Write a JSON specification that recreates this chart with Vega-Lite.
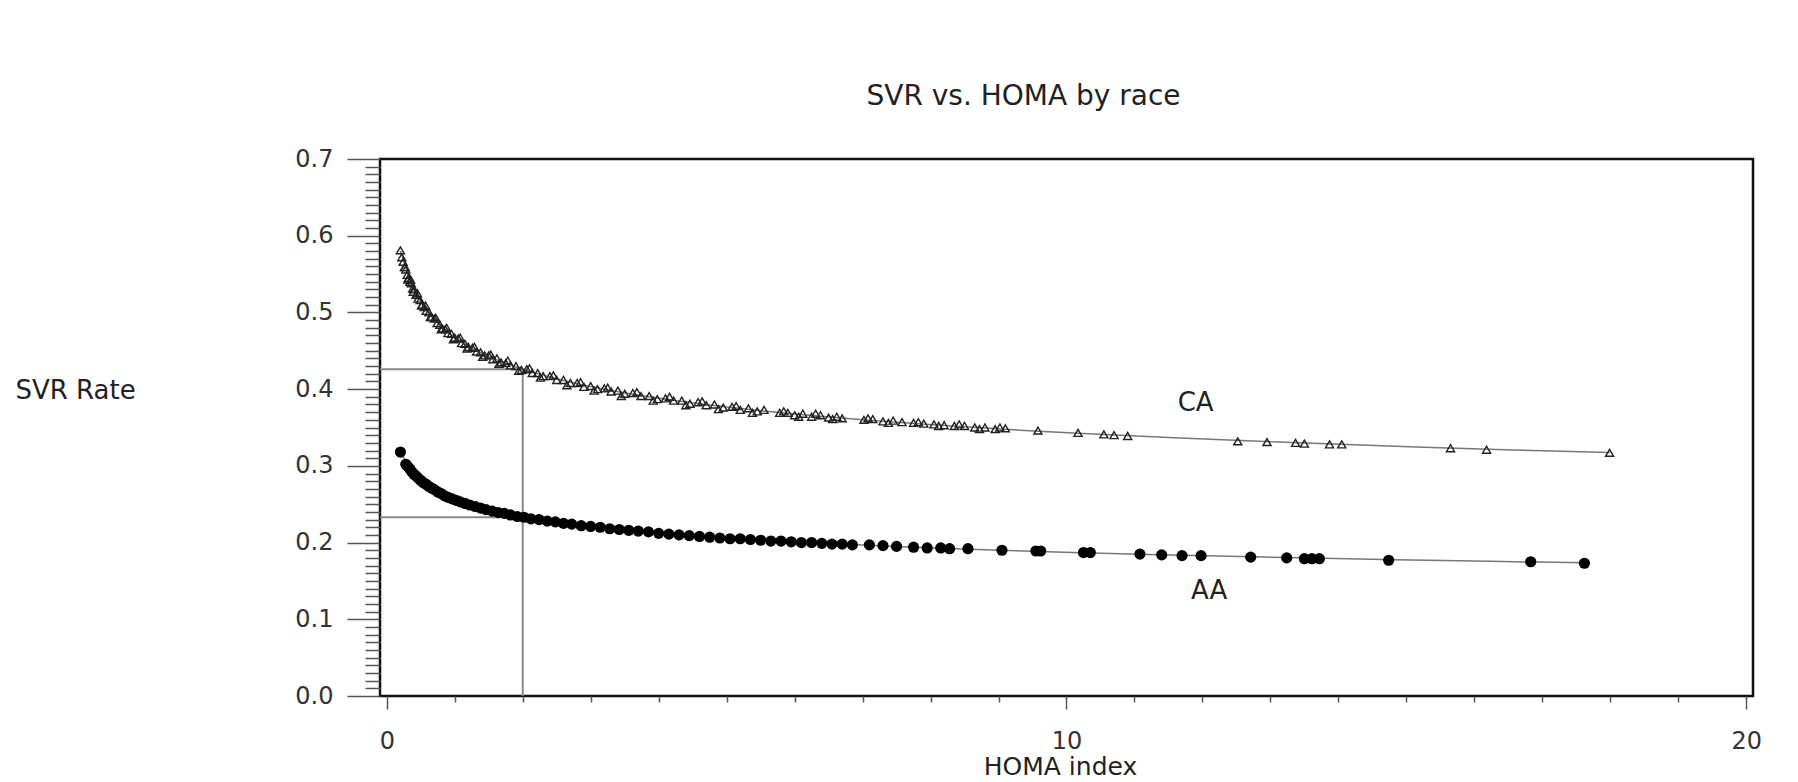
{
  "$schema": "https://vega.github.io/schema/vega-lite/v6.json",
  "width": 1373,
  "height": 537,
  "autosize": {"type": "none"},
  "padding": {"left": 380, "top": 159, "right": 45, "bottom": 86},
  "background": "white",
  "title": {"text": "SVR vs. HOMA by race", "font": "DejaVu Sans", "fontSize": 28, "fontWeight": "normal", "color": "#222", "anchor": "middle", "dx": -43, "offset": 14, "baseline": "alphabetic"},
  "config": {"view": {"stroke": "#111", "strokeWidth": 2.5}, "font": "DejaVu Sans"},
  "datasets": {
    "points": [
      {"race":"CA","homa":0.20,"svr":0.581},{"race":"CA","homa":0.22,"svr":0.572},{"race":"CA","homa":0.24,"svr":0.566},{"race":"CA","homa":0.26,"svr":0.559},{"race":"CA","homa":0.28,"svr":0.556},{"race":"CA","homa":0.30,"svr":0.549},{"race":"CA","homa":0.32,"svr":0.545},{"race":"CA","homa":0.34,"svr":0.540},{"race":"CA","homa":0.36,"svr":0.538},{"race":"CA","homa":0.38,"svr":0.531},{"race":"CA","homa":0.40,"svr":0.530},{"race":"CA","homa":0.43,"svr":0.523},{"race":"CA","homa":0.46,"svr":0.518},{"race":"CA","homa":0.49,"svr":0.516},{"race":"CA","homa":0.52,"svr":0.510},{"race":"CA","homa":0.55,"svr":0.507},{"race":"CA","homa":0.58,"svr":0.502},{"race":"CA","homa":0.62,"svr":0.500},{"race":"CA","homa":0.66,"svr":0.494},{"race":"CA","homa":0.70,"svr":0.492},{"race":"CA","homa":0.74,"svr":0.486},{"race":"CA","homa":0.78,"svr":0.484},{"race":"CA","homa":0.82,"svr":0.479},{"race":"CA","homa":0.86,"svr":0.478},{"race":"CA","homa":0.90,"svr":0.473},{"race":"CA","homa":0.95,"svr":0.472},{"race":"CA","homa":1.00,"svr":0.467},{"race":"CA","homa":1.05,"svr":0.466},{"race":"CA","homa":1.10,"svr":0.460},{"race":"CA","homa":1.15,"svr":0.459},{"race":"CA","homa":1.20,"svr":0.455},{"race":"CA","homa":1.26,"svr":0.454},{"race":"CA","homa":1.32,"svr":0.449},{"race":"CA","homa":1.38,"svr":0.448},{"race":"CA","homa":1.44,"svr":0.444},{"race":"CA","homa":1.50,"svr":0.444},{"race":"CA","homa":1.56,"svr":0.439},{"race":"CA","homa":1.62,"svr":0.440},{"race":"CA","homa":1.68,"svr":0.435},{"race":"CA","homa":1.75,"svr":0.434},{"race":"CA","homa":1.82,"svr":0.431},{"race":"CA","homa":1.90,"svr":0.430},{"race":"CA","homa":1.98,"svr":0.425},{"race":"CA","homa":2.06,"svr":0.426},{"race":"CA","homa":2.14,"svr":0.421},{"race":"CA","homa":2.22,"svr":0.421},{"race":"CA","homa":2.30,"svr":0.417},{"race":"CA","homa":2.40,"svr":0.417},{"race":"CA","homa":2.50,"svr":0.412},{"race":"CA","homa":2.60,"svr":0.412},{"race":"CA","homa":2.70,"svr":0.408},{"race":"CA","homa":2.80,"svr":0.408},{"race":"CA","homa":2.90,"svr":0.403},{"race":"CA","homa":3.00,"svr":0.404},{"race":"CA","homa":3.10,"svr":0.400},{"race":"CA","homa":3.20,"svr":0.401},{"race":"CA","homa":3.30,"svr":0.397},{"race":"CA","homa":3.40,"svr":0.398},{"race":"CA","homa":3.50,"svr":0.394},{"race":"CA","homa":3.62,"svr":0.395},{"race":"CA","homa":3.74,"svr":0.391},{"race":"CA","homa":3.86,"svr":0.391},{"race":"CA","homa":3.98,"svr":0.387},{"race":"CA","homa":4.10,"svr":0.388},{"race":"CA","homa":4.22,"svr":0.385},{"race":"CA","homa":4.34,"svr":0.385},{"race":"CA","homa":4.46,"svr":0.381},{"race":"CA","homa":4.58,"svr":0.383},{"race":"CA","homa":4.70,"svr":0.379},{"race":"CA","homa":4.82,"svr":0.380},{"race":"CA","homa":4.95,"svr":0.376},{"race":"CA","homa":5.08,"svr":0.377},{"race":"CA","homa":5.20,"svr":0.373},{"race":"CA","homa":5.32,"svr":0.375},{"race":"CA","homa":5.45,"svr":0.371},{"race":"CA","homa":5.55,"svr":0.373},{"race":"CA","homa":5.78,"svr":0.369},{"race":"CA","homa":5.90,"svr":0.369},{"race":"CA","homa":6.00,"svr":0.366},{"race":"CA","homa":6.12,"svr":0.368},{"race":"CA","homa":6.25,"svr":0.364},{"race":"CA","homa":6.38,"svr":0.366},{"race":"CA","homa":6.50,"svr":0.363},{"race":"CA","homa":6.62,"svr":0.364},{"race":"CA","homa":6.70,"svr":0.362},{"race":"CA","homa":7.02,"svr":0.360},{"race":"CA","homa":7.15,"svr":0.361},{"race":"CA","homa":7.30,"svr":0.358},{"race":"CA","homa":7.45,"svr":0.359},{"race":"CA","homa":7.58,"svr":0.357},{"race":"CA","homa":7.75,"svr":0.356},{"race":"CA","homa":7.90,"svr":0.355},{"race":"CA","homa":8.05,"svr":0.354},{"race":"CA","homa":8.20,"svr":0.353},{"race":"CA","homa":8.35,"svr":0.352},{"race":"CA","homa":8.50,"svr":0.352},{"race":"CA","homa":8.65,"svr":0.350},{"race":"CA","homa":8.80,"svr":0.350},{"race":"CA","homa":8.95,"svr":0.348},{"race":"CA","homa":9.10,"svr":0.349},{"race":"CA","homa":9.58,"svr":0.346},{"race":"CA","homa":10.17,"svr":0.343},{"race":"CA","homa":10.55,"svr":0.341},{"race":"CA","homa":10.70,"svr":0.340},{"race":"CA","homa":10.90,"svr":0.339},{"race":"CA","homa":12.52,"svr":0.332},{"race":"CA","homa":12.95,"svr":0.331},{"race":"CA","homa":13.37,"svr":0.330},{"race":"CA","homa":13.50,"svr":0.329},{"race":"CA","homa":13.87,"svr":0.328},{"race":"CA","homa":14.05,"svr":0.328},{"race":"CA","homa":15.65,"svr":0.323},{"race":"CA","homa":16.18,"svr":0.321},{"race":"CA","homa":17.99,"svr":0.317},
      {"race":"CA","homa":0.27,"svr":0.559},{"race":"CA","homa":0.31,"svr":0.543},{"race":"CA","homa":0.35,"svr":0.543},{"race":"CA","homa":0.39,"svr":0.527},{"race":"CA","homa":0.45,"svr":0.525},{"race":"CA","homa":0.51,"svr":0.509},{"race":"CA","homa":0.57,"svr":0.509},{"race":"CA","homa":0.64,"svr":0.494},{"race":"CA","homa":0.72,"svr":0.493},{"race":"CA","homa":0.80,"svr":0.478},{"race":"CA","homa":0.88,"svr":0.480},{"race":"CA","homa":0.98,"svr":0.465},{"race":"CA","homa":1.08,"svr":0.467},{"race":"CA","homa":1.18,"svr":0.453},{"race":"CA","homa":1.29,"svr":0.455},{"race":"CA","homa":1.41,"svr":0.442},{"race":"CA","homa":1.53,"svr":0.445},{"race":"CA","homa":1.65,"svr":0.433},{"race":"CA","homa":1.78,"svr":0.437},{"race":"CA","homa":1.94,"svr":0.424},{"race":"CA","homa":2.10,"svr":0.427},{"race":"CA","homa":2.26,"svr":0.415},{"race":"CA","homa":2.45,"svr":0.418},{"race":"CA","homa":2.65,"svr":0.405},{"race":"CA","homa":2.85,"svr":0.409},{"race":"CA","homa":3.05,"svr":0.398},{"race":"CA","homa":3.25,"svr":0.402},{"race":"CA","homa":3.45,"svr":0.391},{"race":"CA","homa":3.68,"svr":0.396},{"race":"CA","homa":3.92,"svr":0.385},{"race":"CA","homa":4.16,"svr":0.390},{"race":"CA","homa":4.40,"svr":0.379},{"race":"CA","homa":4.64,"svr":0.384},{"race":"CA","homa":4.88,"svr":0.374},{"race":"CA","homa":5.14,"svr":0.378},{"race":"CA","homa":5.38,"svr":0.369},{"race":"CA","homa":5.84,"svr":0.371},{"race":"CA","homa":6.06,"svr":0.364},{"race":"CA","homa":6.31,"svr":0.368},{"race":"CA","homa":6.56,"svr":0.361},{"race":"CA","homa":7.08,"svr":0.362},{"race":"CA","homa":7.38,"svr":0.356},{"race":"CA","homa":7.82,"svr":0.357},{"race":"CA","homa":8.12,"svr":0.352},{"race":"CA","homa":8.42,"svr":0.354},{"race":"CA","homa":8.72,"svr":0.348},{"race":"CA","homa":9.02,"svr":0.350},
      {"race":"AA","homa":0.20,"svr":0.318},{"race":"AA","homa":0.28,"svr":0.302},{"race":"AA","homa":0.31,"svr":0.299},{"race":"AA","homa":0.34,"svr":0.296},{"race":"AA","homa":0.37,"svr":0.292},{"race":"AA","homa":0.40,"svr":0.289},{"race":"AA","homa":0.43,"svr":0.287},{"race":"AA","homa":0.46,"svr":0.284},{"race":"AA","homa":0.50,"svr":0.281},{"race":"AA","homa":0.54,"svr":0.278},{"race":"AA","homa":0.58,"svr":0.276},{"race":"AA","homa":0.62,"svr":0.273},{"race":"AA","homa":0.66,"svr":0.271},{"race":"AA","homa":0.70,"svr":0.269},{"race":"AA","homa":0.75,"svr":0.266},{"race":"AA","homa":0.80,"svr":0.264},{"race":"AA","homa":0.85,"svr":0.261},{"race":"AA","homa":0.90,"svr":0.259},{"race":"AA","homa":0.96,"svr":0.257},{"race":"AA","homa":1.02,"svr":0.255},{"race":"AA","homa":1.08,"svr":0.253},{"race":"AA","homa":1.15,"svr":0.251},{"race":"AA","homa":1.22,"svr":0.249},{"race":"AA","homa":1.30,"svr":0.247},{"race":"AA","homa":1.38,"svr":0.245},{"race":"AA","homa":1.46,"svr":0.243},{"race":"AA","homa":1.55,"svr":0.241},{"race":"AA","homa":1.64,"svr":0.239},{"race":"AA","homa":1.73,"svr":0.238},{"race":"AA","homa":1.82,"svr":0.236},{"race":"AA","homa":1.92,"svr":0.234},{"race":"AA","homa":2.02,"svr":0.233},{"race":"AA","homa":2.12,"svr":0.231},{"race":"AA","homa":2.24,"svr":0.230},{"race":"AA","homa":2.36,"svr":0.228},{"race":"AA","homa":2.48,"svr":0.227},{"race":"AA","homa":2.60,"svr":0.225},{"race":"AA","homa":2.72,"svr":0.224},{"race":"AA","homa":2.86,"svr":0.222},{"race":"AA","homa":3.00,"svr":0.221},{"race":"AA","homa":3.14,"svr":0.220},{"race":"AA","homa":3.28,"svr":0.218},{"race":"AA","homa":3.42,"svr":0.217},{"race":"AA","homa":3.56,"svr":0.216},{"race":"AA","homa":3.70,"svr":0.215},{"race":"AA","homa":3.85,"svr":0.214},{"race":"AA","homa":4.00,"svr":0.212},{"race":"AA","homa":4.15,"svr":0.211},{"race":"AA","homa":4.30,"svr":0.210},{"race":"AA","homa":4.45,"svr":0.209},{"race":"AA","homa":4.60,"svr":0.208},{"race":"AA","homa":4.75,"svr":0.207},{"race":"AA","homa":4.90,"svr":0.206},{"race":"AA","homa":5.05,"svr":0.205},{"race":"AA","homa":5.20,"svr":0.205},{"race":"AA","homa":5.35,"svr":0.204},{"race":"AA","homa":5.50,"svr":0.203},{"race":"AA","homa":5.65,"svr":0.202},{"race":"AA","homa":5.80,"svr":0.202},{"race":"AA","homa":5.95,"svr":0.201},{"race":"AA","homa":6.10,"svr":0.200},{"race":"AA","homa":6.25,"svr":0.200},{"race":"AA","homa":6.40,"svr":0.199},{"race":"AA","homa":6.55,"svr":0.198},{"race":"AA","homa":6.70,"svr":0.198},{"race":"AA","homa":6.85,"svr":0.197},{"race":"AA","homa":7.10,"svr":0.197},{"race":"AA","homa":7.30,"svr":0.196},{"race":"AA","homa":7.50,"svr":0.195},{"race":"AA","homa":7.75,"svr":0.194},{"race":"AA","homa":7.95,"svr":0.193},{"race":"AA","homa":8.15,"svr":0.193},{"race":"AA","homa":8.28,"svr":0.192},{"race":"AA","homa":8.55,"svr":0.192},{"race":"AA","homa":9.05,"svr":0.190},{"race":"AA","homa":9.55,"svr":0.189},{"race":"AA","homa":9.62,"svr":0.189},{"race":"AA","homa":10.25,"svr":0.187},{"race":"AA","homa":10.35,"svr":0.187},{"race":"AA","homa":11.08,"svr":0.185},{"race":"AA","homa":11.40,"svr":0.184},{"race":"AA","homa":11.70,"svr":0.183},{"race":"AA","homa":11.98,"svr":0.183},{"race":"AA","homa":12.71,"svr":0.181},{"race":"AA","homa":13.24,"svr":0.180},{"race":"AA","homa":13.50,"svr":0.179},{"race":"AA","homa":13.61,"svr":0.179},{"race":"AA","homa":13.72,"svr":0.179},{"race":"AA","homa":14.74,"svr":0.177},{"race":"AA","homa":16.83,"svr":0.175},{"race":"AA","homa":17.62,"svr":0.173}
    ],
    "refs": [
      {"homa": -0.1, "homa2": 2, "svr": 0.426, "svr2": 0.426},
      {"homa": 2, "homa2": 2, "svr": 0, "svr2": 0.426},
      {"homa": -0.1, "homa2": 2, "svr": 0.233, "svr2": 0.233}
    ],
    "labels": [
      {"label": "CA", "homa": 11.9, "svr": 0.382},
      {"label": "AA", "homa": 12.1, "svr": 0.137}
    ]
  },
  "encoding": {
    "x": {
      "field": "homa", "type": "quantitative",
      "scale": {"domain": [-0.1, 20.1], "nice": false, "zero": false},
      "axis": {
        "values": [0,1,2,3,4,5,6,7,8,9,10,11,12,13,14,15,16,17,18,19,20],
        "tickSize": {"condition": {"test": "datum.value % 10 === 0", "value": 13}, "value": 6},
        "labelExpr": "datum.value % 10 === 0 ? datum.label : ''",
        "labelFont": "DejaVu Sans", "labelFontSize": 24, "labelColor": "#333", "labelPadding": 20,
        "labelOverlap": false, "labelFlush": false, "labelBound": false,
        "tickColor": "#555", "tickWidth": 1.5, "domain": false, "grid": false,
        "title": "HOMA index", "titleFont": "DejaVu Sans", "titleFontSize": 25, "titleFontWeight": "normal", "titleColor": "#222",
        "titleX": 680, "titleY": 78, "titleBaseline": "alphabetic", "titleAlign": "center"
      }
    },
    "y": {
      "field": "svr", "type": "quantitative",
      "scale": {"domain": [0, 0.7], "nice": false, "zero": false},
      "axis": {
        "values": [0,0.01,0.02,0.03,0.04,0.05,0.06,0.07,0.08,0.09,0.1,0.11,0.12,0.13,0.14,0.15,0.16,0.17,0.18,0.19,0.2,0.21,0.22,0.23,0.24,0.25,0.26,0.27,0.28,0.29,0.3,0.31,0.32,0.33,0.34,0.35,0.36,0.37,0.38,0.39,0.4,0.41,0.42,0.43,0.44,0.45,0.46,0.47,0.48,0.49,0.5,0.51,0.52,0.53,0.54,0.55,0.56,0.57,0.58,0.59,0.6,0.61,0.62,0.63,0.64,0.65,0.66,0.67,0.68,0.69,0.7],
        "tickSize": {"condition": {"test": "abs(datum.value*10 - round(datum.value*10)) < 0.001", "value": 33}, "value": 15},
        "labelExpr": "abs(datum.value*10 - round(datum.value*10)) < 0.001 ? format(datum.value, '.1f') : ''",
        "labelFont": "DejaVu Sans", "labelFontSize": 24, "labelColor": "#333", "labelPadding": 14,
        "labelOverlap": false, "labelFlush": false, "labelBound": false,
        "tickColor": "#555", "tickWidth": 1.5, "domain": false, "grid": false,
        "title": "SVR Rate", "titleFont": "DejaVu Sans", "titleFontSize": 26, "titleFontWeight": "normal", "titleColor": "#222",
        "titleAngle": 0, "titleAlign": "left", "titleBaseline": "middle", "titleX": -365, "titleY": 231
      }
    }
  },
  "layer": [
    {
      "data": {"name": "refs"},
      "mark": {"type": "rule", "color": "#8a8a8a", "strokeWidth": 2},
      "encoding": {"x2": {"field": "homa2"}, "y2": {"field": "svr2"}}
    },
    {
      "data": {"name": "points"},
      "transform": [{"regression": "svr", "on": "homa", "method": "pow", "groupby": ["race"]}],
      "mark": {"type": "line", "color": "#777", "strokeWidth": 1.5},
      "encoding": {"detail": {"field": "race", "type": "nominal"}}
    },
    {
      "data": {"name": "points"},
      "transform": [{"filter": "datum.race === 'CA'"}],
      "mark": {"type": "point", "shape": "triangle-up", "filled": false, "color": "#222", "size": 65, "strokeWidth": 1.4, "opacity": 1}
    },
    {
      "data": {"name": "points"},
      "transform": [{"filter": "datum.race === 'AA'"}],
      "mark": {"type": "circle", "color": "#000", "size": 125, "opacity": 1}
    },
    {
      "data": {"name": "labels"},
      "mark": {"type": "text", "font": "DejaVu Sans", "fontSize": 26, "color": "#222", "align": "center", "baseline": "middle"},
      "encoding": {"text": {"field": "label", "type": "nominal"}}
    }
  ]
}
